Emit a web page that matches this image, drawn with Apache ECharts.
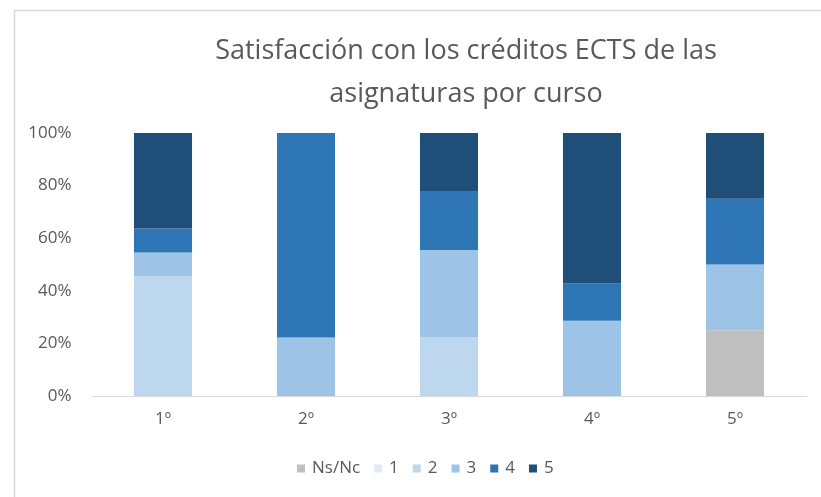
<!DOCTYPE html>
<html><head><meta charset="utf-8">
<script src="https://cdn.jsdelivr.net/npm/echarts@6/dist/echarts.min.js"></script>
<style>html,body{margin:0;padding:0;background:#fff}#c{width:821px;height:497px}</style>
</head><body><div id="c"></div>
<script>
const categories = ['1º','2º','3º','4º','5º'];
const seriesNames = ['Ns/Nc','1','2','3','4','5'];
const valNsNc = [0, 0, 0, 0, 25];
const val1 = [0, 0, 0, 0, 0];
const val2 = [45.5, 0, 22.2, 0, 0];
const val3 = [9.1, 22.2, 33.3, 28.6, 25];
const val4 = [9.1, 77.8, 22.2, 14.3, 25];
const val5 = [36.3, 0, 22.3, 57.1, 25];
const yTicks = [0, 20, 40, 60, 80, 100];
const colors = ['#BFBFBF','#DEEBF7','#BDD7EE','#9DC3E6','#2E75B6','#1F4E79'];
const allVals = [valNsNc, val1, val2, val3, val4, val5];
const font = '"Open Sans", sans-serif';

const chart = echarts.init(document.getElementById('c'));
chart.setOption({
  animation: false,
  graphic: [{type:'rect', left: 12, top: 8, shape:{width: 1000, height: 700}, style:{fill:'none', stroke:'#D9D9D9', lineWidth:1.5}, silent:true}],
  title: {
    text: 'Satisfacción con los créditos ECTS de las\nasignaturas por curso',
    left: 461, textAlign: 'center', top: 25,
    textStyle: {fontFamily: font, fontWeight: 'normal', fontSize: 27, color: '#595959', lineHeight: 43}
  },
  legend: {
    data: seriesNames.map((n, i) => i === 0 ? {name: n, textStyle: {padding: [0, 6, 0, 2]}} : {name: n}),
    left: 292, top: 455, itemWidth: 8, itemHeight: 8, itemGap: 14,
    icon: 'rect',
    textStyle: {fontFamily: font, fontSize: 17, color: '#595959', padding: [0, 0, 0, 2]}
  },
  grid: {left: 91.5, right: 14.5, top: 133, bottom: 101},
  xAxis: {
    type: 'category', data: categories,
    axisLine: {lineStyle: {color: '#D9D9D9', width: 1}},
    axisTick: {show: false},
    axisLabel: {fontFamily: font, fontSize: 17, color: '#595959', margin: 15}
  },
  yAxis: {
    type: 'value', min: yTicks[0], max: yTicks[yTicks.length-1], interval: 20,
    axisLine: {show: false}, axisTick: {show: false}, splitLine: {show: false},
    axisLabel: {fontFamily: font, fontSize: 17, color: '#595959', margin: 20, formatter: '{value}%'}
  },
  series: seriesNames.map((n, i) => ({
    name: n, type: 'bar', stack: 'total', barWidth: '40.6%',
    data: allVals[i],
    itemStyle: {color: colors[i]}
  }))
});
</script></body></html>
